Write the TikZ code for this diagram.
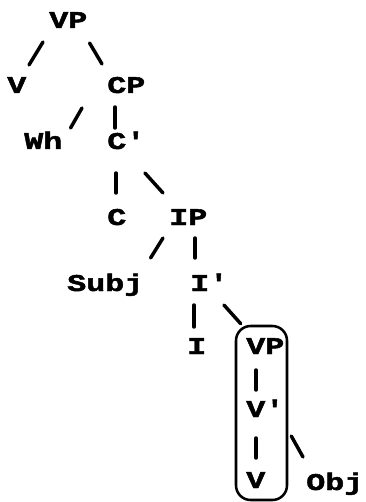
\documentclass[tikz,border=0pt]{standalone}
\usepackage{fontspec}
\setmonofont[FakeStretch=1.32,FakeBold=2]{Liberation Mono}
\usepackage{tikz}

\begin{document}
\begin{tikzpicture}[x=0.75pt,y=0.75pt,yscale=-1,xscale=1,
	lbl/.style={anchor=base west,inner sep=0pt,font=\fontsize{18}{18}\ttfamily\bfseries},
	branch/.style={line width=2.6pt,line cap=round},
	group/.style={draw,line width=1.9pt,rounded corners=11pt,minimum width=38.25pt,minimum height=130.5pt,inner sep=0pt}]
	\useasboundingbox (0,0) rectangle (365,502);
	
	% Text Nodes
	\node[lbl] (vp) at (49,28) {VP};
	\node[lbl] (v) at (7,93) {V};
	\node[lbl] (cp) at (107,93) {CP};
	\node[lbl] (wh) at (24,149) {Wh};
	\node[lbl] (cbar) at (107,149) {C\textquotesingle};
	\node[lbl] (c) at (107,225) {C};
	\node[lbl] (ip) at (169,225) {IP};
	\node[lbl] (subj) at (67,291) {Subj};
	\node[lbl] (ibar) at (190,291) {I\textquotesingle};
	\node[lbl] (i) at (187,354) {I};
	\node[lbl] (vplow) at (246,354) {VP};
	\node[lbl] (vbar) at (246,417) {V\textquotesingle};
	\node[lbl] (vlow) at (246,488) {V};
	\node[lbl] (obj) at (306,490) {Obj};
	
	% Rounded box round the lower VP
	\node[group] (box) at (261.5,413) {};
	
	% Branches
	\draw[branch] ([shift={(-6,14)}]vp.base west) -- ([shift={(22,-28)}]v.base west);
	\draw[branch] ([shift={(2,15)}]vp.base east) -- ([shift={(-5,-29)}]cp.base west);
	\draw[branch] ([shift={(-25,15)}]cp.base west) -- ([shift={(8,-21)}]wh.base east);
	\draw[branch] ([shift={(8,14)}]cp.base west) -- ([shift={(8,-21)}]cbar.base west);
	\draw[branch] ([shift={(9,24)}]cbar.base west) -- ([shift={(9,-32)}]c.base west);
	\draw[branch] ([shift={(4,24)}]cbar.base east) -- ([shift={(-6,-32)}]ip.base west);
	\draw[branch] ([shift={(-6,13)}]ip.base west) -- ([shift={(7,-33)}]subj.base east);
	\draw[branch] ([shift={(26,13)}]ip.base west) -- ([shift={(5,-33)}]ibar.base west);
	\draw[branch] ([shift={(4,14)}]ibar.base west) -- ([shift={(7,-27)}]i.base west);
	\draw[branch] ([shift={(0,14)}]ibar.base east) -- ([shift={(6,-1)}]box.north west);
	\draw[branch] ([shift={(10,16)}]vplow.base west) -- ([shift={(10,-27)}]vbar.base west);
	\draw[branch] ([shift={(10,21)}]vbar.base west) -- ([shift={(10,-30)}]vlow.base west);
	\draw[branch] ([shift={(3,23)}]box.east) -- ([shift={(-3,-33)}]obj.base west);
	
\end{tikzpicture}
\end{document}
